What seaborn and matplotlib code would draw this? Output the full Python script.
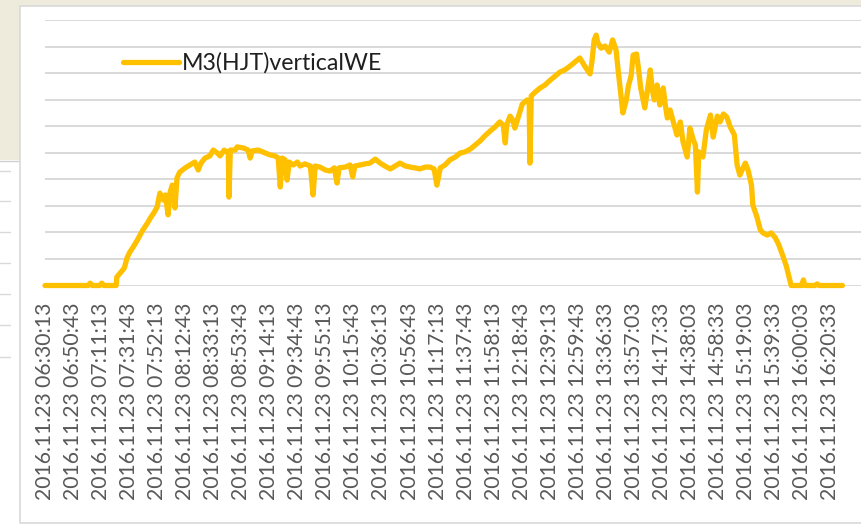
import matplotlib
matplotlib.use("Agg")
import matplotlib.pyplot as plt
import seaborn as sns
import pandas as pd
from matplotlib.patches import Rectangle
from matplotlib.lines import Line2D

# ---- data ----
series_name = "M3(HJT)verticalWE"
tick_labels = [
    "2016.11.23 06:30:13", "2016.11.23 06:50:43", "2016.11.23 07:11:13",
    "2016.11.23 07:31:43", "2016.11.23 07:52:13", "2016.11.23 08:12:43",
    "2016.11.23 08:33:13", "2016.11.23 08:53:43", "2016.11.23 09:14:13",
    "2016.11.23 09:34:43", "2016.11.23 09:55:13", "2016.11.23 10:15:43",
    "2016.11.23 10:36:13", "2016.11.23 10:56:43", "2016.11.23 11:17:13",
    "2016.11.23 11:37:43", "2016.11.23 11:58:13", "2016.11.23 12:18:43",
    "2016.11.23 12:39:13", "2016.11.23 12:59:43", "2016.11.23 13:36:33",
    "2016.11.23 13:57:03", "2016.11.23 14:17:33", "2016.11.23 14:38:03",
    "2016.11.23 14:58:33", "2016.11.23 15:19:03", "2016.11.23 15:39:33",
    "2016.11.23 16:00:03", "2016.11.23 16:20:33",
]
samples_per_label = 41

sample = [
    0, 63, 66, 69, 80, 83, 86, 104, 105, 110, 116, 120, 124, 129, 135, 143,
    149, 154, 160, 164, 168, 173, 176, 180, 183, 186, 189, 190, 193, 197, 205,
    212, 219, 224, 228, 234, 241, 246, 252, 256, 262, 266, 268, 269, 271, 278,
    281, 290, 297, 300, 303, 312, 322, 329, 336, 341, 344, 347, 351, 354, 357,
    363, 369, 373, 380, 388, 392, 395, 402, 410, 417, 423, 427, 430, 439, 446,
    450, 453, 461, 468, 475, 483, 490, 497, 505, 512, 519, 527, 534, 541, 548,
    556, 563, 569, 573, 578, 585, 592, 600, 607, 614, 622, 629, 636, 643, 651,
    658, 665, 670, 673, 675, 680, 684, 687, 692, 698, 705, 708, 709, 711, 717,
    724, 731, 739, 746, 753, 760, 768, 775, 782, 790, 797, 800, 803, 806, 808,
    813, 819, 825, 830, 835, 838, 841, 845, 850, 853, 857, 860, 865, 868, 871,
    877, 882, 885, 888, 891, 895, 899, 904, 907, 910, 914, 918, 924, 929, 933,
    939, 943, 948, 951, 954, 956, 962, 967, 973, 977, 983, 987, 992, 997, 1002,
    1008, 1012, 1016, 1024, 1028, 1033, 1035, 1041, 1046, 1050, 1056, 1062,
    1068, 1073, 1079, 1084, 1088, 1091, 1106, 1109, 1111, 1126, 1129, 1132,
    1166,
]
value = [
    0, 0, 9, 0, 0, 9, 0, 0, 32, 47, 66, 104, 126, 145, 171, 209,
    232, 254, 277, 296, 348, 322, 341, 266, 352, 378, 360, 292, 405, 427, 443,
    454, 465, 435, 461, 480, 488, 510, 499, 488, 510, 503, 503, 333, 510, 510,
    522, 518, 510, 480, 507, 510, 499, 492, 488, 480, 371, 480, 473, 397, 465,
    454, 465, 450, 458, 450, 341, 450, 446, 435, 431, 443, 386, 443, 446, 454,
    409, 450, 454, 458, 461, 476, 461, 450, 439, 450, 461, 450, 446, 443, 439,
    446, 446, 439, 378, 443, 454, 473, 484, 499, 503, 514, 529, 544, 563, 582,
    597, 616, 604, 537, 604, 638, 623, 593, 635, 684, 699, 684, 461, 714, 729,
    744, 755, 774, 789, 804, 812, 827, 842, 857, 823, 797, 849, 925, 943, 917,
    894, 902, 879, 925, 887, 812, 744, 650, 699, 751, 789, 868, 872, 812, 744,
    669, 755, 812, 736, 699, 755, 680, 744, 680, 631, 661, 623, 567, 616, 540,
    484, 593, 548, 529, 352, 503, 484, 586, 642, 559, 638, 616, 646, 634, 597,
    567, 454, 416, 461, 435, 378, 303, 258, 209, 198, 190, 198,
    179, 153, 111, 73, 32, 0, 0, 21, 0, 0, 6, 0,
    0,
]

df = pd.DataFrame({"sample": sample, "value": value})

# ---- figure ----
W, H = 861, 526
DPI = 100
sns.set_theme(style="white")
plt.rcParams["font.family"] = ["Lato", "DejaVu Sans"]

fig = plt.figure(figsize=(W / DPI, H / DPI), dpi=DPI, facecolor="white")

# background remnants of the slide
beige = "#EEEBDD"
fig.patches.append(Rectangle((0, 1 - 6 / H), 1, 6 / H, transform=fig.transFigure,
                             facecolor=beige, edgecolor="none", zorder=0))
fig.patches.append(Rectangle((0, 1 - 160 / H), 20 / W, 160 / H, transform=fig.transFigure,
                             facecolor=beige, edgecolor="none", zorder=0))
fig.lines.append(Line2D([0, 20 / W], [1 - 161 / H, 1 - 161 / H], transform=fig.transFigure,
                        color="#D0D0D0", lw=1.0, zorder=0))
for yy in [171, 201, 232, 263, 294, 325, 357]:
    fig.lines.append(Line2D([0, 10 / W], [1 - yy / H, 1 - yy / H], transform=fig.transFigure,
                            color="#D9D9D9", lw=1.0, zorder=0))
# chart area box
fig.patches.append(Rectangle((20 / W, 1 - 523 / H), 1.0, (523 - 6) / H, transform=fig.transFigure,
                             facecolor="white", edgecolor="#D9D9D9", lw=1.2, zorder=1))

left_px, right_px = 45, 861
top_px, base_px = 20, 285.5
ax = fig.add_axes([left_px / W, 1 - base_px / H, (right_px - left_px) / W, (base_px - top_px) / H])
ax.set_facecolor("none")
ax.set_zorder(2)

sns.lineplot(data=df, x="sample", y="value", ax=ax, color="#FFC000", lw=3.8,
             label=series_name, solid_joinstyle="round", solid_capstyle="round",
             clip_on=False, zorder=3)

px_per_sample = 28.04 / samples_per_label
ax.set_xlim(0, (right_px - left_px) / px_per_sample)
ax.set_ylim(0, 1000)
ax.set_yticks(range(0, 1001, 100))
ax.set_yticklabels([])
ax.tick_params(axis="y", length=0)
ax.grid(axis="y", color="#D9D9D9", lw=1.4)
ax.set_axisbelow(True)

ticks = [i * samples_per_label for i in range(len(tick_labels))]
ax.set_xticks(ticks)
ax.set_xticklabels(tick_labels, rotation=90, color="#595959", fontsize=15.2)
ax.tick_params(axis="x", length=0, pad=12)
ax.set_xlabel("")
ax.set_ylabel("")
for s in ax.spines.values():
    s.set_visible(False)

leg = ax.legend(loc="center left", bbox_to_anchor=(78 / 816, (base_px - 63) / (base_px - top_px)),
                frameon=False, fontsize=16.7, handlelength=2.4, handletextpad=0.15,
                borderpad=0, borderaxespad=0)
for t in leg.get_texts():
    t.set_color("#1F1F1F")
for h in leg.get_lines():
    h.set_linewidth(3.8)
    h.set_solid_capstyle("round")

fig.savefig("out.png", dpi=DPI, facecolor=fig.get_facecolor())
